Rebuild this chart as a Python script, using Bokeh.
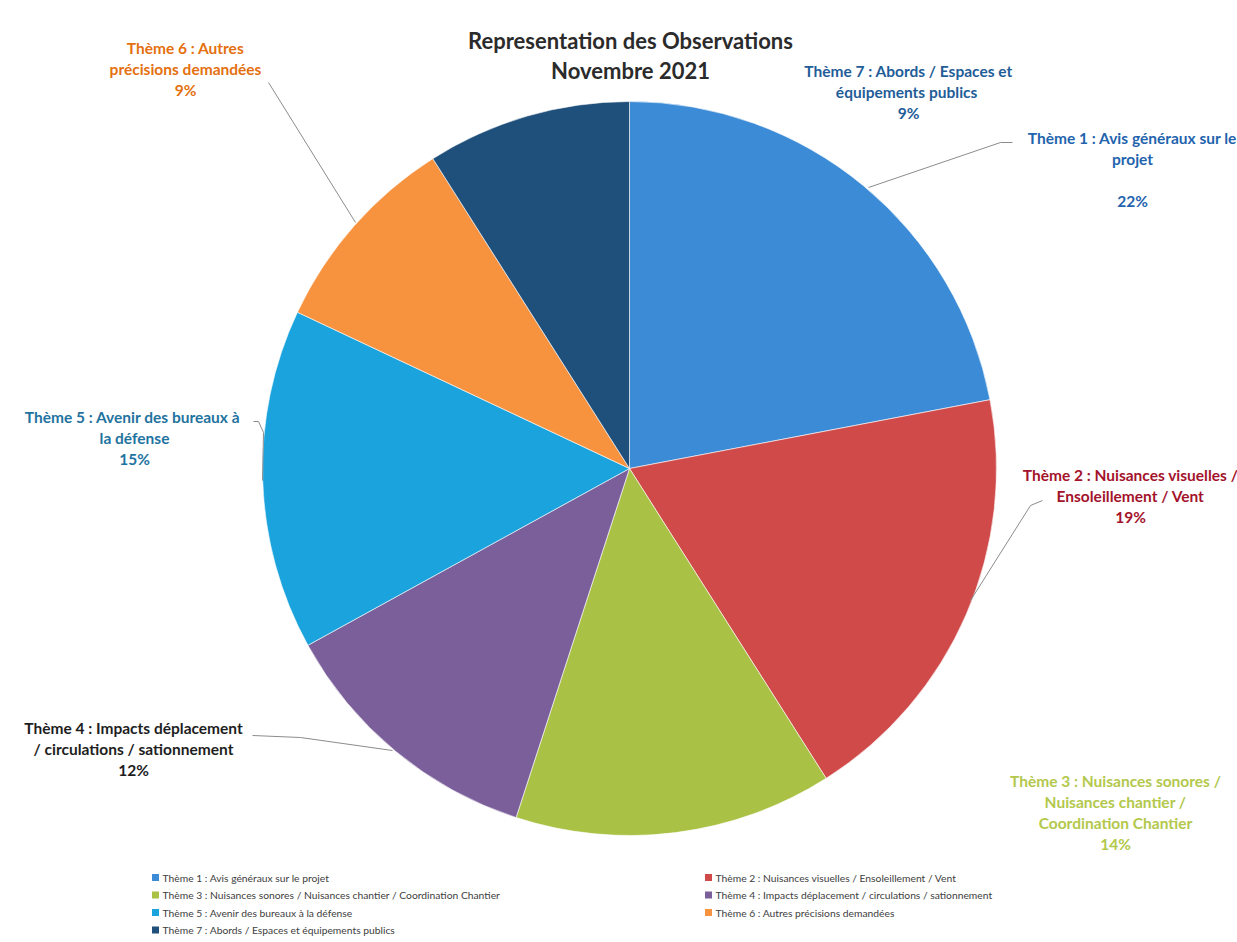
import math
from bokeh.plotting import figure
from bokeh.models import ColumnDataSource, Range1d
from bokeh.core.properties import value
from bokeh.embed import file_html
from bokeh.resources import INLINE

# ---- data ----
themes = ["Thème 1 : Avis généraux sur le projet",
          "Thème 2 : Nuisances visuelles / Ensoleillement / Vent",
          "Thème 3 : Nuisances sonores / Nuisances chantier / Coordination Chantier",
          "Thème 4 : Impacts déplacement / circulations / sationnement",
          "Thème 5 : Avenir des bureaux  à la défense",
          "Thème 6 : Autres précisions demandées",
          "Thème 7 : Abords / Espaces et équipements  publics"]
percents = [22, 19, 14, 12, 15, 9, 9]
slice_colors = ["#3b8bd6", "#cf4a49", "#a9c144", "#7b5f9b", "#1aa3dc", "#f7923f", "#1f4f7b"]
label_lines = [["Thème 1 : Avis généraux sur le", "projet", "", "22%"],
               ["Thème 2 : Nuisances visuelles /", "Ensoleillement / Vent", "19%"],
               ["Thème 3 : Nuisances sonores /", "Nuisances chantier /", "Coordination Chantier", "14%"],
               ["Thème 4 : Impacts déplacement", "/ circulations / sationnement", "12%"],
               ["Thème 5 : Avenir des bureaux  à", "la défense", "15%"],
               ["Thème 6 : Autres", "précisions demandées", "9%"],
               ["Thème 7 : Abords / Espaces et", "équipements  publics", "9%"]]
label_colors = ["#1f64ad", "#a3132c", "#b3c84c", "#1e1e1e", "#1f73a0", "#e4700f", "#1f5d98"]
title_lines = ["Representation des Observations", "Novembre 2021"]

W, H = 1237, 942
def Y(py):
    return H - py

# ---- layout ----
CX, CY, R = 629, 468, 367
label_pos = [(1132, 137), (1130, 474), (1115, 780), (133, 727), (134, 416), (185, 47), (908, 70)]
line_h = 21.3
leader_pts = [[(868, 187), (1000, 142), (1012, 142)],
              [(970, 600), (1030, 505), (1042, 500)],
              None,
              [(392, 750), (300, 737), (252, 735)],
              [(262, 480), (263, 432), (258, 421), (253, 421)],
              [(355, 222), (268, 82)],
              None]

p = figure(width=W, height=H, output_backend="svg", toolbar_location=None,
           x_range=Range1d(0, W), y_range=Range1d(0, H),
           min_border=0, outline_line_color=None)
p.axis.visible = False
p.grid.visible = False
p.background_fill_color = "white"
p.border_fill_color = "white"

# wedges: start at 12 o'clock, go clockwise
total = float(sum(percents))
starts, ends = [], []
cum = 0.0
for v in percents:
    a0 = math.pi / 2 - 2 * math.pi * (cum + v) / total
    a1 = math.pi / 2 - 2 * math.pi * cum / total
    starts.append(a0)
    ends.append(a1)
    cum += v
src = ColumnDataSource(dict(x=[CX] * len(percents), y=[Y(CY)] * len(percents),
                            start=starts, end=ends, color=slice_colors, theme=themes))
p.wedge(x="x", y="y", radius=R, start_angle="start", end_angle="end",
        fill_color="color", line_color="white", line_width=0.6, source=src)

# leader lines
for pts in leader_pts:
    if pts:
        p.line([q[0] for q in pts], [Y(q[1]) for q in pts], line_color="#8c8c8c", line_width=1)

# data labels
for lines, (lx, ly), col in zip(label_lines, label_pos, label_colors):
    xs, ys, ts = [], [], []
    for i, t in enumerate(lines):
        if t:
            xs.append(lx); ys.append(Y(ly + i * line_h)); ts.append(t)
    p.text(x=xs, y=ys, text=ts, text_font=value("Lato"), text_font_style="bold",
           text_font_size="15.5px", text_color=col, text_align="center", text_baseline="middle")

# title
p.text(x=[630, 630], y=[Y(40), Y(70)], text=title_lines, text_font=value("Lato"),
       text_font_style="bold", text_font_size="22px", text_color="#2b2b2b",
       text_align="center", text_baseline="middle")

# legend (two columns)
leg_x = [155, 708]
leg_y0, leg_dy = 877, 17.5
lx_, ly_, lt_, lc_ = [], [], [], []
for i, (t, c) in enumerate(zip(themes, slice_colors)):
    col = i % 2
    row = i // 2
    lx_.append(leg_x[col]); ly_.append(Y(leg_y0 + row * leg_dy)); lt_.append(t); lc_.append(c)
p.rect(x=lx_, y=ly_, width=7, height=7, fill_color=lc_, line_color=None)
p.text(x=[x + 7 for x in lx_], y=ly_, text=lt_, text_font=value("Lato"),
       text_font_size="10.3px", text_color="#404040", text_align="left", text_baseline="middle")

open("out.html", "w").write(file_html(p, INLINE))
